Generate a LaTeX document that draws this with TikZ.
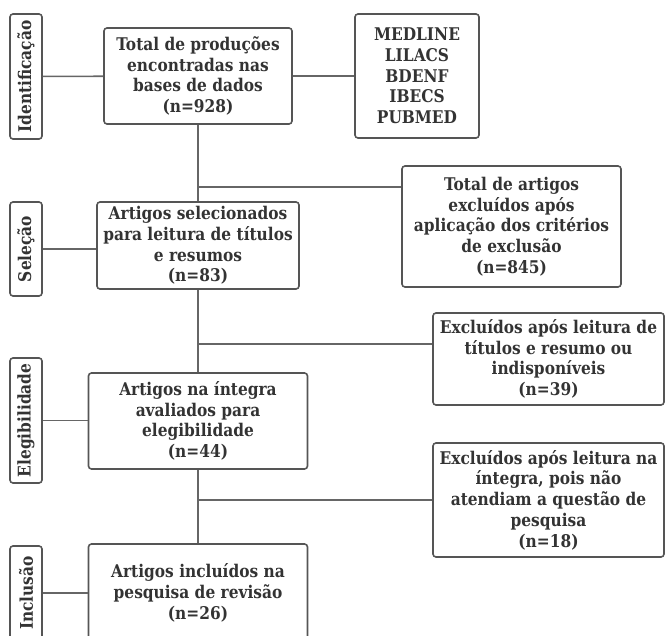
\documentclass[tikz,border=0pt]{standalone}
\usepackage{fontspec}
\setmainfont{DejaVu Serif}[FakeStretch=0.88]
\usetikzlibrary{positioning}

\definecolor{inkgray}{HTML}{333333}
\definecolor{edgegray}{HTML}{555555}
\definecolor{linegray}{HTML}{666666}

\begin{document}
\begin{tikzpicture}[
    x=1pt, y=-1pt,
    box/.style={draw=edgegray, line width=1.6pt, rounded corners=3pt, fill=white,
                align=center, text=inkgray, font=\bfseries\fontsize{17.5}{20.7}\selectfont,
                inner sep=2pt},
    phase/.style={draw=edgegray, line width=1.6pt, rounded corners=3pt, fill=white,
                  rotate=90, text=inkgray, font=\bfseries\fontsize{17.5}{20}\selectfont,
                  minimum height=32pt, inner sep=0pt},
    link/.style={draw=linegray, line width=1.6pt}
]

  % Define variables for the layout
  \def\spineX{198}       % x of the main column
  \def\labX{26}          % x of the phase labels

  \useasboundingbox (0,0) rectangle (665,636);
  \clip (0,0) rectangle (665,636);

  % Phase labels on the left
  \node[phase, minimum width=125pt] (idlab)  at (\labX,76.5)  {Identificação};
  \node[phase, minimum width=94pt]  (sellab) at (\labX,249)   {Seleção};
  \node[phase, minimum width=125pt] (elelab) at (\labX,420.5) {Elegibilidade};
  \node[phase, minimum width=94pt]  (inclab) at (\labX,593)   {Inclusão};

  % Main column
  \node[box, minimum width=188pt, minimum height=96pt] (tot) at (\spineX,76)
    {Total de produções\\encontradas nas\\bases de dados\\(n=928)};
  \node[box, minimum width=202pt, minimum height=87pt] (sel) at (\spineX,245.5)
    {Artigos selecionados\\para leitura de títulos\\e resumos\\(n=83)};
  \node[box, minimum width=219pt, minimum height=96pt] (ele) at (\spineX,421)
    {Artigos na íntegra\\avaliados para\\elegibilidade\\(n=44)};
  \node[box, minimum width=219pt, minimum height=98pt] (inc) at (\spineX,593)
    {Artigos incluídos na\\pesquisa de revisão\\(n=26)};

  % Side boxes
  \node[box, minimum width=124pt, minimum height=124pt] (bases) at (417,76)
    {MEDLINE\\LILACS\\BDENF\\IBECS\\PUBMED};
  \node[box, minimum width=219pt, minimum height=121pt] (exc1) at (511.5,226.5)
    {Total de artigos\\excluídos após\\aplicação dos critérios\\de exclusão\\(n=845)};
  \node[box, minimum width=231pt, minimum height=92pt] (exc2) at (548.5,359)
    {Excluídos após leitura de\\títulos e resumo ou\\indisponíveis\\(n=39)};
  \node[box, minimum width=231pt, minimum height=114pt] (exc3) at (548.5,500)
    {Excluídos após leitura na\\íntegra, pois não\\atendiam a questão de\\pesquisa\\(n=18)};

  % Junctions on the main column
  \coordinate (j1) at (\spineX,187);
  \coordinate (j2) at (\spineX,344);
  \coordinate (j3) at (\spineX,500);

  % Connect phase labels to boxes
  \draw[link] (idlab) -- (tot);
  \draw[link] (sellab) -- (sellab -| sel.west);
  \draw[link] (elelab) -- (elelab -| ele.west);
  \draw[link] (inclab) -- (inc);
  \draw[link] (tot) -- (bases);

  % Main column and branches
  \draw[link] (tot) -- (sel);
  \draw[link] (sel) -- (ele);
  \draw[link] (ele) -- (inc);
  \draw[link] (j1) -- (j1 -| exc1.west);
  \draw[link] (j2) -- (j2 -| exc2.west);
  \draw[link] (j3) -- (j3 -| exc3.west);

\end{tikzpicture}
\end{document}
